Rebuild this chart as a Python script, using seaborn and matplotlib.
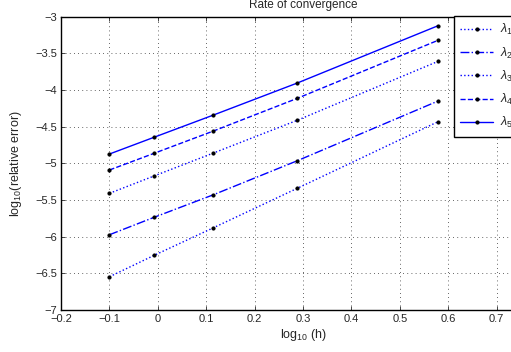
import matplotlib
matplotlib.use("Agg")
import matplotlib.pyplot as plt
import seaborn as sns

# log10(h) sample points
log_h = [-0.1, -0.008, 0.115, 0.288, 0.579]

# log10(relative error) per eigenvalue
lam1 = [-6.547, -6.256, -5.878, -5.341, -4.432]
lam2 = [-5.974, -5.737, -5.428, -4.965, -4.150]
lam3 = [-5.409, -5.173, -4.859, -4.413, -3.609]
lam4 = [-5.091, -4.864, -4.559, -4.114, -3.322]
lam5 = [-4.873, -4.645, -4.341, -3.905, -3.123]

series = [lam1, lam2, lam3, lam4, lam5]
labels = [r'$\lambda_1$', r'$\lambda_2$', r'$\lambda_3$', r'$\lambda_4$', r'$\lambda_5$']
styles = [':', '-.', ':', '--', '-']

sns.set_style("ticks")
plt.rcParams['font.family'] = ['Liberation Sans', 'DejaVu Sans']
plt.rcParams['mathtext.fontset'] = 'custom'
plt.rcParams['mathtext.rm'] = 'Liberation Sans'
plt.rcParams['mathtext.it'] = 'Liberation Sans:italic'

fig = plt.figure(figsize=(5.11, 3.52), dpi=100)
W, H = 511, 352
ax = fig.add_axes([61 / W, (H - 310) / H, 484 / W, (310 - 16.7) / H])

for vals, lab, ls in zip(series, labels, styles):
    sns.lineplot(x=log_h, y=vals, ax=ax, color='#0000ff', linestyle=ls,
                 linewidth=1, marker='.', markersize=4.5,
                 markerfacecolor='k', markeredgecolor='k', label=lab)

ax.set_xlim(-0.2, 0.8)
ax.set_ylim(-7, -3)
xt = [-0.2, -0.1, 0, 0.1, 0.2, 0.3, 0.4, 0.5, 0.6, 0.7]
ax.set_xticks(xt)
ax.set_xticklabels(['\u22120.2', '\u22120.1', '0', '0.1', '0.2', '0.3', '0.4', '0.5', '0.6', '0.7'])
ax.set_yticks([-7, -6.5, -6, -5.5, -5, -4.5, -4, -3.5, -3])
ax.set_yticklabels(['\u22127', '\u22126.5', '\u22126', '\u22125.5', '\u22125', '\u22124.5', '\u22124', '\u22123.5', '\u22123'])
ax.tick_params(direction='in', length=3, width=0.6, top=True, right=True, labelsize=8, pad=3)
ax.grid(True, linestyle=(0, (1, 4)), color='#333333', linewidth=0.6)
for s in ax.spines.values():
    s.set_linewidth(1)
    s.set_color('k')

ax.set_title('Rate of convergence', fontsize=8.5, pad=6)
ax.set_xlabel(r'log$_{10}$ (h)', fontsize=9, labelpad=2)
ax.set_ylabel(r'log$_{10}$(relative error)', fontsize=9, labelpad=8)

leg = ax.legend(loc='upper left', bbox_to_anchor=(454 / W, 1 - 16 / H),
                bbox_transform=fig.transFigure, borderaxespad=0,
                fancybox=False, framealpha=1, edgecolor='k', fontsize=9,
                handlelength=2.6, handletextpad=0.6, borderpad=0.5,
                labelspacing=0.65, numpoints=1)
leg.get_frame().set_linewidth(1)

fig.savefig('out.png', dpi=100)
